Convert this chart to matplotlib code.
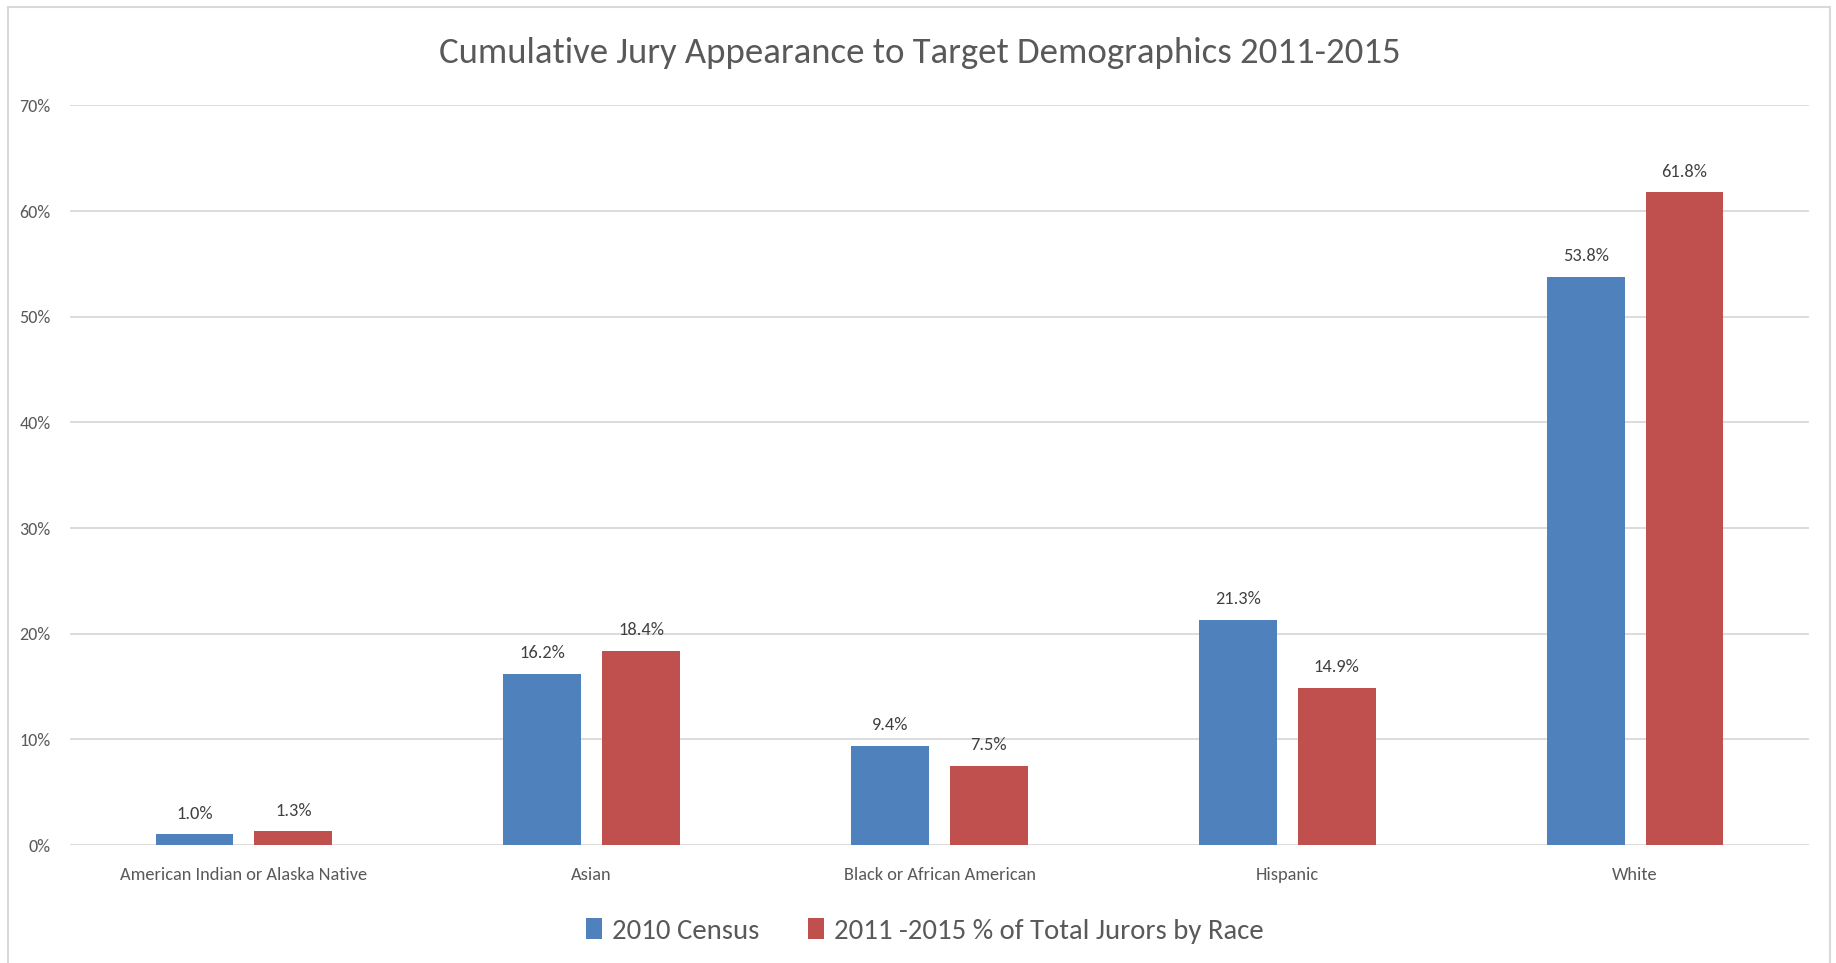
import matplotlib
matplotlib.use("Agg")
import matplotlib.pyplot as plt
from matplotlib import font_manager as fm
from matplotlib.patches import Rectangle
import numpy as np

categories = ["American Indian or Alaska Native", "Asian", "Black or African American", "Hispanic", "White"]
census_2010 = [1.0, 16.2, 9.4, 21.3, 53.8]
jurors_2011_2015 = [1.3, 18.4, 7.5, 14.9, 61.8]
series_names = ["2010 Census", "2011 -2015 % of Total Jurors by Race"]
y_ticks = [0, 10, 20, 30, 40, 50, 60, 70]
title = "Cumulative Jury Appearance to Target Demographics 2011-2015"

names = {f.name for f in fm.fontManager.ttflist}
font = next((c for c in ["Carlito", "Liberation Sans Narrow", "Lato"] if c in names), "DejaVu Sans")
plt.rcParams['font.family'] = [font, 'DejaVu Sans']

TXT = "#595959"
BLUE = "#4F81BD"
RED = "#C0504D"
GRID = "#D9D9D9"

W, H = 1836, 963
fig = plt.figure(figsize=(W / 100, H / 100), dpi=100)
fig.patch.set_facecolor("white")

# outer chart border
fig.patches.append(Rectangle((8 / W, -0.01), (1830 - 8) / W, 1 - 7 / H + 0.01,
                             transform=fig.transFigure, fill=False,
                             edgecolor="#D9D9D9", linewidth=1.5))

ax = fig.add_axes([70 / W, (H - 845) / H, (1809 - 70) / W, (845 - 105.4) / H])
x = np.arange(len(categories))
bw = 0.224
off = 0.142
b1 = ax.bar(x - off, census_2010, bw, color=BLUE, label=series_names[0], zorder=3)
b2 = ax.bar(x + off, jurors_2011_2015, bw, color=RED, label=series_names[1], zorder=3)

for bars, vals in ((b1, census_2010), (b2, jurors_2011_2015)):
    for rect, v in zip(bars, vals):
        ax.annotate(f"{v:.1f}%", (rect.get_x() + rect.get_width() / 2, v),
                    xytext=(0, 9), textcoords="offset points",
                    ha="center", va="bottom", fontsize=13.2, color="#404040")

ax.set_xlim(-0.5, len(categories) - 0.5)
ax.set_ylim(0, 70)
ax.set_yticks(y_ticks)
ax.set_yticklabels([f"{t}%" for t in y_ticks])
ax.set_xticks(x)
ax.set_xticklabels(categories)
ax.tick_params(axis="both", length=0, colors=TXT)
ax.tick_params(axis="y", pad=14, labelsize=13)
ax.tick_params(axis="x", pad=16, labelsize=13.2)
ax.grid(axis="y", color=GRID, linewidth=1.3, zorder=0)
for s in ax.spines.values():
    s.set_visible(False)

fig.text(0.501, 1 - 53 / H, title, ha="center", va="center", fontsize=26.5, color=TXT)

leg = fig.legend(handles=[b1, b2], labels=series_names, loc="center",
                 bbox_to_anchor=(925 / W, 1 - 931 / H), ncol=2, frameon=False,
                 fontsize=20.7, handlelength=0.55, handleheight=0.75, handletextpad=0.35,
                 columnspacing=1.7, labelcolor=TXT)

fig.savefig("out.png", dpi=100, facecolor="white")
